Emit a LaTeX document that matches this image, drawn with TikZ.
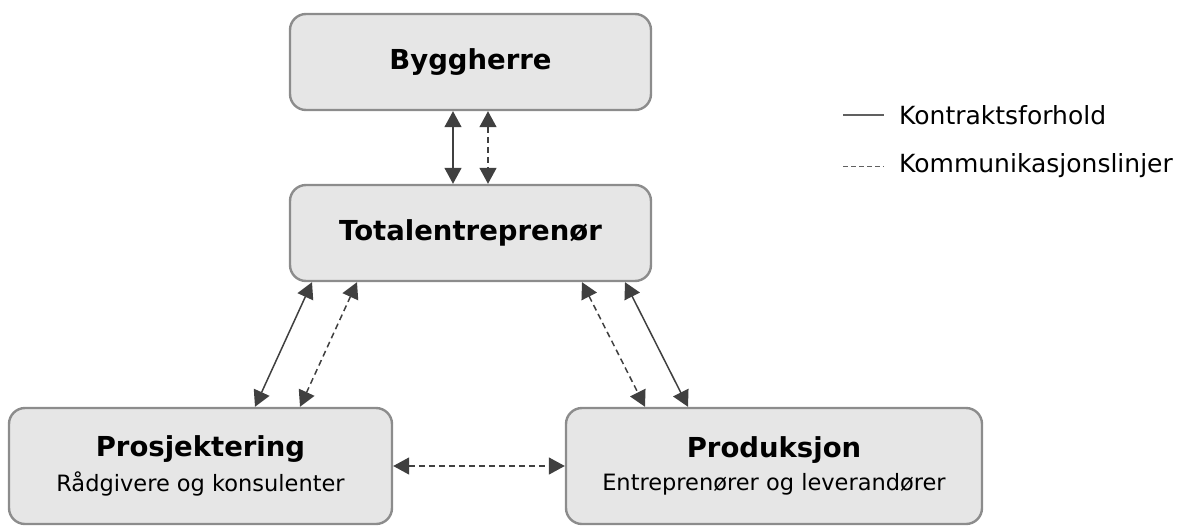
\documentclass[tikz,border=0pt]{standalone}
\usepackage{fontspec}
\setmainfont{DejaVu Sans}
\usepackage{tikz}
\usetikzlibrary{calc,positioning,arrows.meta}
\definecolor{boxfill}{HTML}{E6E6E6}
\definecolor{boxline}{HTML}{8C8C8C}
\definecolor{arrline}{HTML}{404040}
\definecolor{legline}{HTML}{606060}
\newcommand{\titlefont}{\fontsize{27.5}{33}\selectfont\bfseries}
\newcommand{\subfont}{\fontsize{22.5}{27}\selectfont}
\newcommand{\legfont}{\fontsize{25}{30}\selectfont}

\begin{document}
\begin{tikzpicture}[x=1pt,y=-1pt,
    part/.style={draw=boxline, line width=2.4pt, fill=boxfill, rounded corners=16pt, align=center, inner sep=0pt},
    con/.style={arrline, line width=1.5pt, {Triangle[length=16pt,width=17pt]}-{Triangle[length=16pt,width=17pt]}},
    com/.style={con, dash pattern=on 6pt off 4pt}]
      \useasboundingbox (0,0) rectangle (1187,528);

      \node[part, minimum width=361pt, minimum height=96pt] (bygg) at (470.5,62) {\titlefont Byggherre};
      \node[part, minimum width=361pt, minimum height=96pt] (tot) at (470.5,233) {\titlefont Totalentreprenør};
      \node[part, minimum width=383pt, minimum height=116pt] (pros) at (200.5,466)
        {{\titlefont Prosjektering}\\[9pt]{\subfont Rådgivere og konsulenter}};
      \node[part, minimum width=416pt, minimum height=116pt] (prod) at (774,466)
        {{\titlefont Produksjon}\\[9pt]{\subfont Entreprenører og leverandører}};

      % byggherre - totalentreprenor
      \draw[con] ($(bygg.south)+(-17.5,0)$) -- ($(tot.north)+(-17.5,0)$);
      \draw[com] ($(bygg.south)+(17.5,0)$) -- ($(tot.north)+(17.5,0)$);

      % totalentreprenor - prosjektering
      \draw[con] ($(tot.south)+(-158.5,0)$) -- ($(pros.north)+(54.5,0)$);
      \draw[com] ($(tot.south)+(-113.5,0)$) -- ($(pros.north)+(99.5,0)$);

      % totalentreprenor - produksjon
      \draw[com] ($(tot.south)+(111.5,0)$) -- ($(prod.north)+(-129,0)$);
      \draw[con] ($(tot.south)+(154.5,0)$) -- ($(prod.north)+(-86,0)$);

      % prosjektering - produksjon
      \draw[com] (pros.east) -- (prod.west);

      % legend
      \coordinate (k0) at (843,115);
      \coordinate (k1) at (884,115);
      \coordinate (m0) at (843,166);
      \coordinate (m1) at (884,166);
      \draw[legline, line width=1.3pt] (k0) -- (k1);
      \draw[legline, line width=1pt, dash pattern=on 5pt off 3pt] (m0) -- (m1);
      \node[anchor=west, inner sep=0pt, right=15pt of k1] (kontr) {\legfont Kontraktsforhold};
      \node[anchor=west, inner sep=0pt, right=15pt of m1] (komm) {\legfont Kommunikasjonslinjer};
\end{tikzpicture}
\end{document}
